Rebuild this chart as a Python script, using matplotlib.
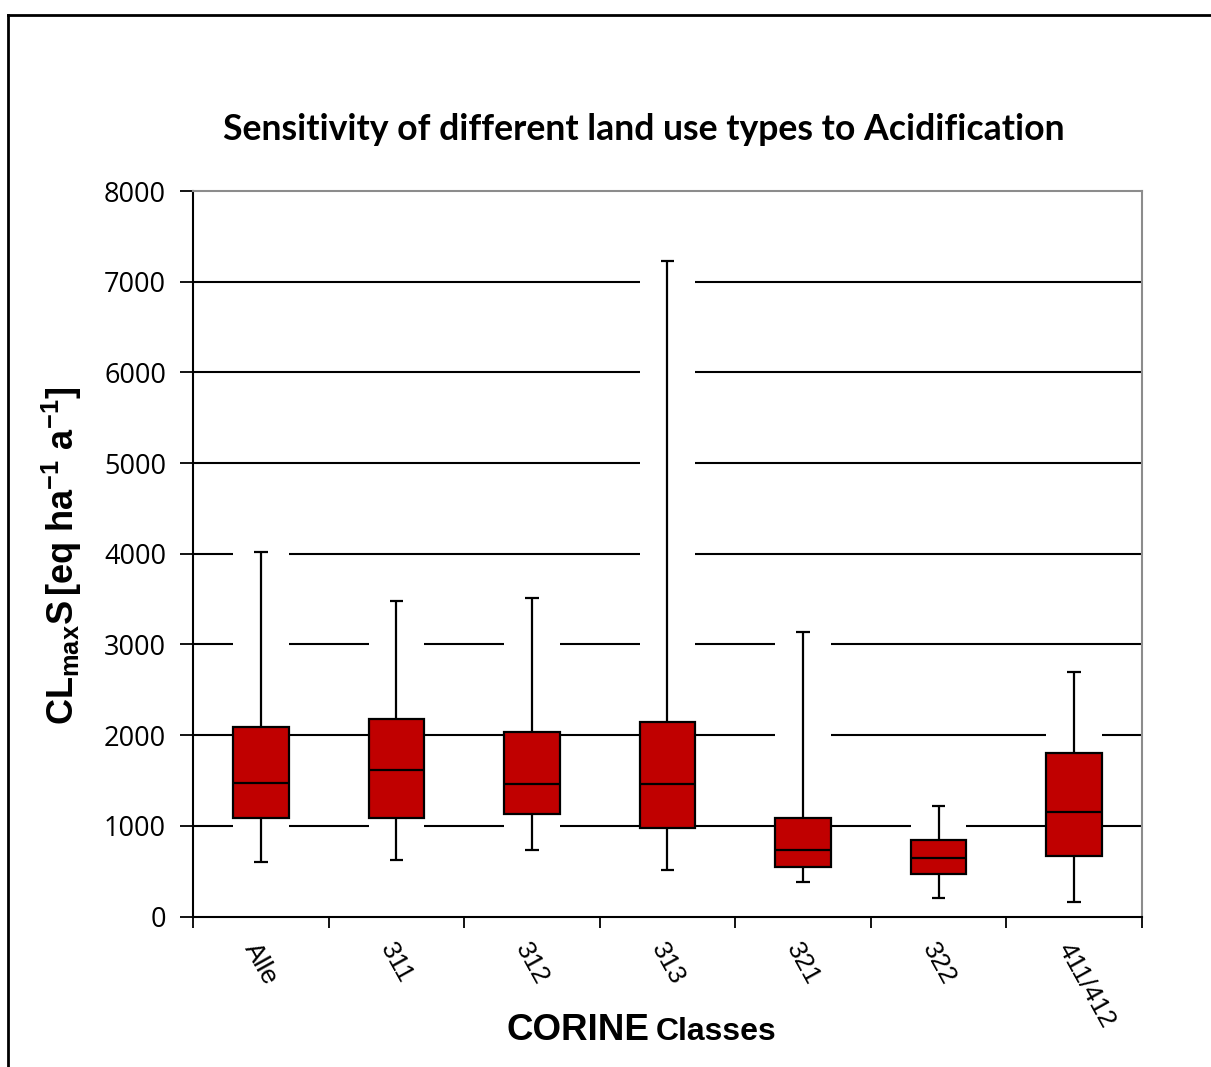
import matplotlib
matplotlib.use("Agg")
import matplotlib.pyplot as plt
from matplotlib.lines import Line2D
import numpy as np

# ---- data ----
categories = ['Alle', '311', '312', '313', '321', '322', '411/412']
whisker_low = [598, 620, 731, 510, 377, 201, 157]
q1 = [1084, 1084, 1128, 973, 550, 465, 664]
median = [1477, 1617, 1459, 1459, 731, 642, 1150]
q3 = [2088, 2177, 2033, 2150, 1091, 848, 1805]
whisker_high = [4020, 3475, 3512, 7227, 3137, 1216, 2695]
yticks = [0, 1000, 2000, 3000, 4000, 5000, 6000, 7000, 8000]

plt.rcParams['mathtext.fontset'] = 'custom'
plt.rcParams['mathtext.rm'] = 'Liberation Sans'
plt.rcParams['mathtext.bf'] = 'Liberation Sans:bold'
plt.rcParams['mathtext.it'] = 'Liberation Sans:italic'

W, H = 1211, 1067
fig = plt.figure(figsize=(W / 100, H / 100), dpi=100)
fig.patch.set_facecolor('white')

L, R, T, B = 193, 1142, 191, 916.5
ax = fig.add_axes([L / W, (H - B) / H, (R - L) / W, (B - T) / H])

x = np.arange(len(categories))
bw = 0.41
red = '#C00000'

# gridlines
for yv in yticks[1:-1]:
    ax.axhline(yv, color='black', lw=1.5, zorder=0)

# white bands hiding gridlines behind whiskers
ax.bar(x, whisker_high, width=bw, bottom=0, color='white', edgecolor='none', zorder=1)

# whiskers
ax.vlines(x, whisker_low, q1, color='black', lw=1.6, zorder=2)
ax.vlines(x, q3, whisker_high, color='black', lw=1.6, zorder=2)
cw = 0.05
ax.hlines(whisker_low, x - cw, x + cw, color='black', lw=1.6, zorder=2)
ax.hlines(whisker_high, x - cw, x + cw, color='black', lw=1.6, zorder=2)

# boxes
heights = [b - a for a, b in zip(q1, q3)]
ax.bar(x, heights, width=bw, bottom=q1, color=red, edgecolor='black', lw=1.6, zorder=3)
ax.hlines(median, x - bw / 2, x + bw / 2, color='black', lw=1.6, zorder=4)

ax.set_xlim(-0.5, len(categories) - 0.5)
ax.set_ylim(0, 8000)

# spines
for s in ['left', 'bottom']:
    ax.spines[s].set_color('black')
    ax.spines[s].set_linewidth(1.5)
for s in ['top', 'right']:
    ax.spines[s].set_color('#8c8c8c')
    ax.spines[s].set_linewidth(1.5)

# y ticks
ax.set_yticks(yticks)
ax.set_yticklabels([str(v) for v in yticks], fontfamily='Open Sans', fontsize=19.5)
ax.tick_params(axis='y', direction='out', length=9.5, width=1.3, pad=10, colors='black')

# x ticks: labels at centers, tick marks at boundaries
ax.set_xticks(x)
ax.set_xticklabels(categories, fontfamily='Liberation Sans', fontsize=19,
                   rotation=-61, rotation_mode='anchor', ha='left', va='top')
ax.tick_params(axis='x', which='major', length=0, pad=16)
ax.set_xticks(np.arange(-0.5, len(categories)), minor=True)
ax.tick_params(axis='x', which='minor', direction='out', length=8, width=1.3, colors='black')

# title
fig.text(643.5 / W, 1 - 140 / H, 'Sensitivity of different land use types to Acidification',
         ha='center', va='baseline', fontfamily='Lato', fontweight='bold', fontsize=25.7)

# y label
fig.text(62 / W, 1 - 556 / H, r'$\mathbf{CL_{max}S\,[eq\ ha^{-1}\ a^{-1}]}$',
         rotation=90, ha='center', va='center', fontsize=26)

# x label
fig.text(649 / W, 1 - 1040 / H, 'CORINE', ha='right', va='baseline',
         fontfamily='Liberation Sans', fontweight='bold', fontsize=26.5)
fig.text(656 / W, 1 - 1040 / H, 'Classes', ha='left', va='baseline',
         fontfamily='Liberation Sans', fontweight='bold', fontsize=23)

# outer border
fig.add_artist(Line2D([8 / W, 8 / W], [0, 1 - 15 / H], transform=fig.transFigure,
                      color='black', lw=2))
fig.add_artist(Line2D([8 / W, 1], [1 - 15 / H, 1 - 15 / H], transform=fig.transFigure,
                      color='black', lw=2))

fig.savefig('out.png', dpi=100)
